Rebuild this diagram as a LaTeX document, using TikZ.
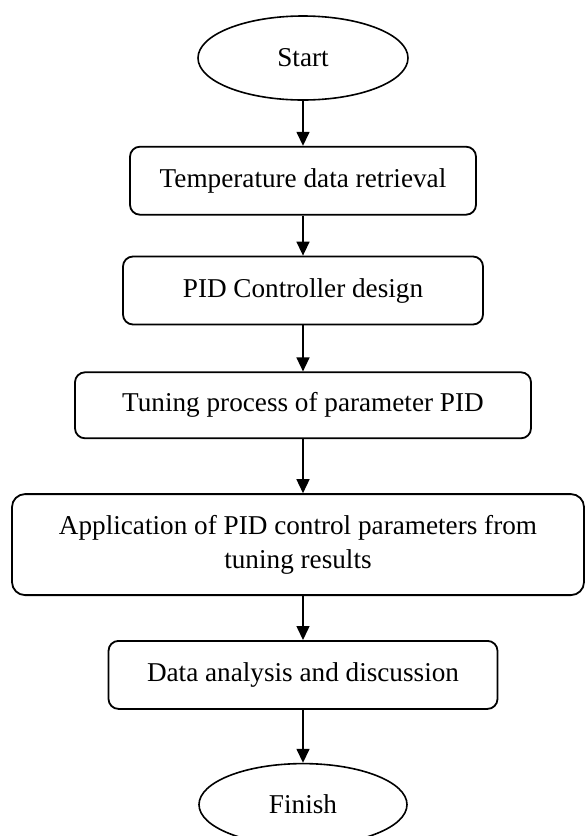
\documentclass[tikz,border=0pt]{standalone}
\usepackage{fontspec}
\setmainfont{Liberation Serif}
\usetikzlibrary{positioning,shapes.geometric,arrows.meta}
\tikzset{
	terminal/.style={draw, ellipse, line width=0.8pt, minimum width=105pt, minimum height=42pt, inner sep=0pt},
	process/.style={draw, rounded corners=5pt, line width=0.9pt, minimum height=34pt, inner sep=0pt, align=center},
	flow/.style={-{Triangle[width=6.5pt,length=7pt]}, line width=0.75pt},
	every node/.style={font=\fontsize{13.6}{17}\selectfont}
}

\begin{document}
\begin{tikzpicture}[x=0.5pt,y=-0.5pt]
		\useasboundingbox (0,0) rectangle (585,836);
		\node[terminal] (start) at (303,58) {Start};
		\node[process, minimum width=173pt] (retrieval) [below=22.5pt of start] {Temperature data retrieval};
		\node[process, minimum width=180pt] (design) [below=20pt of retrieval] {PID Controller design};
		\node[process, minimum width=228pt, minimum height=33pt] (tuning) [below=23pt of design] {Tuning process of parameter PID};
		\node[process, minimum width=286pt, minimum height=50.5pt, rounded corners=6.5pt] (apply) [below=27pt of tuning, xshift=-2.5pt] {Application of PID control parameters from\\ tuning results};
		\node[process, minimum width=194.5pt] (analysis) [below=22pt of apply, xshift=2.5pt] {Data analysis and discussion};
		\node[terminal, minimum width=104pt, minimum height=41pt] (finish) [below=26.5pt of analysis] {Finish};
		
		\draw[flow] (start) -- (retrieval);
		\draw[flow] (retrieval) -- (design);
		\draw[flow] (design) -- (tuning);
		\draw[flow] (tuning) -- (tuning |- apply.north);
		\draw[flow] (analysis |- apply.south) -- (analysis);
		\draw[flow] (analysis) -- (finish);
\end{tikzpicture}
\end{document}
